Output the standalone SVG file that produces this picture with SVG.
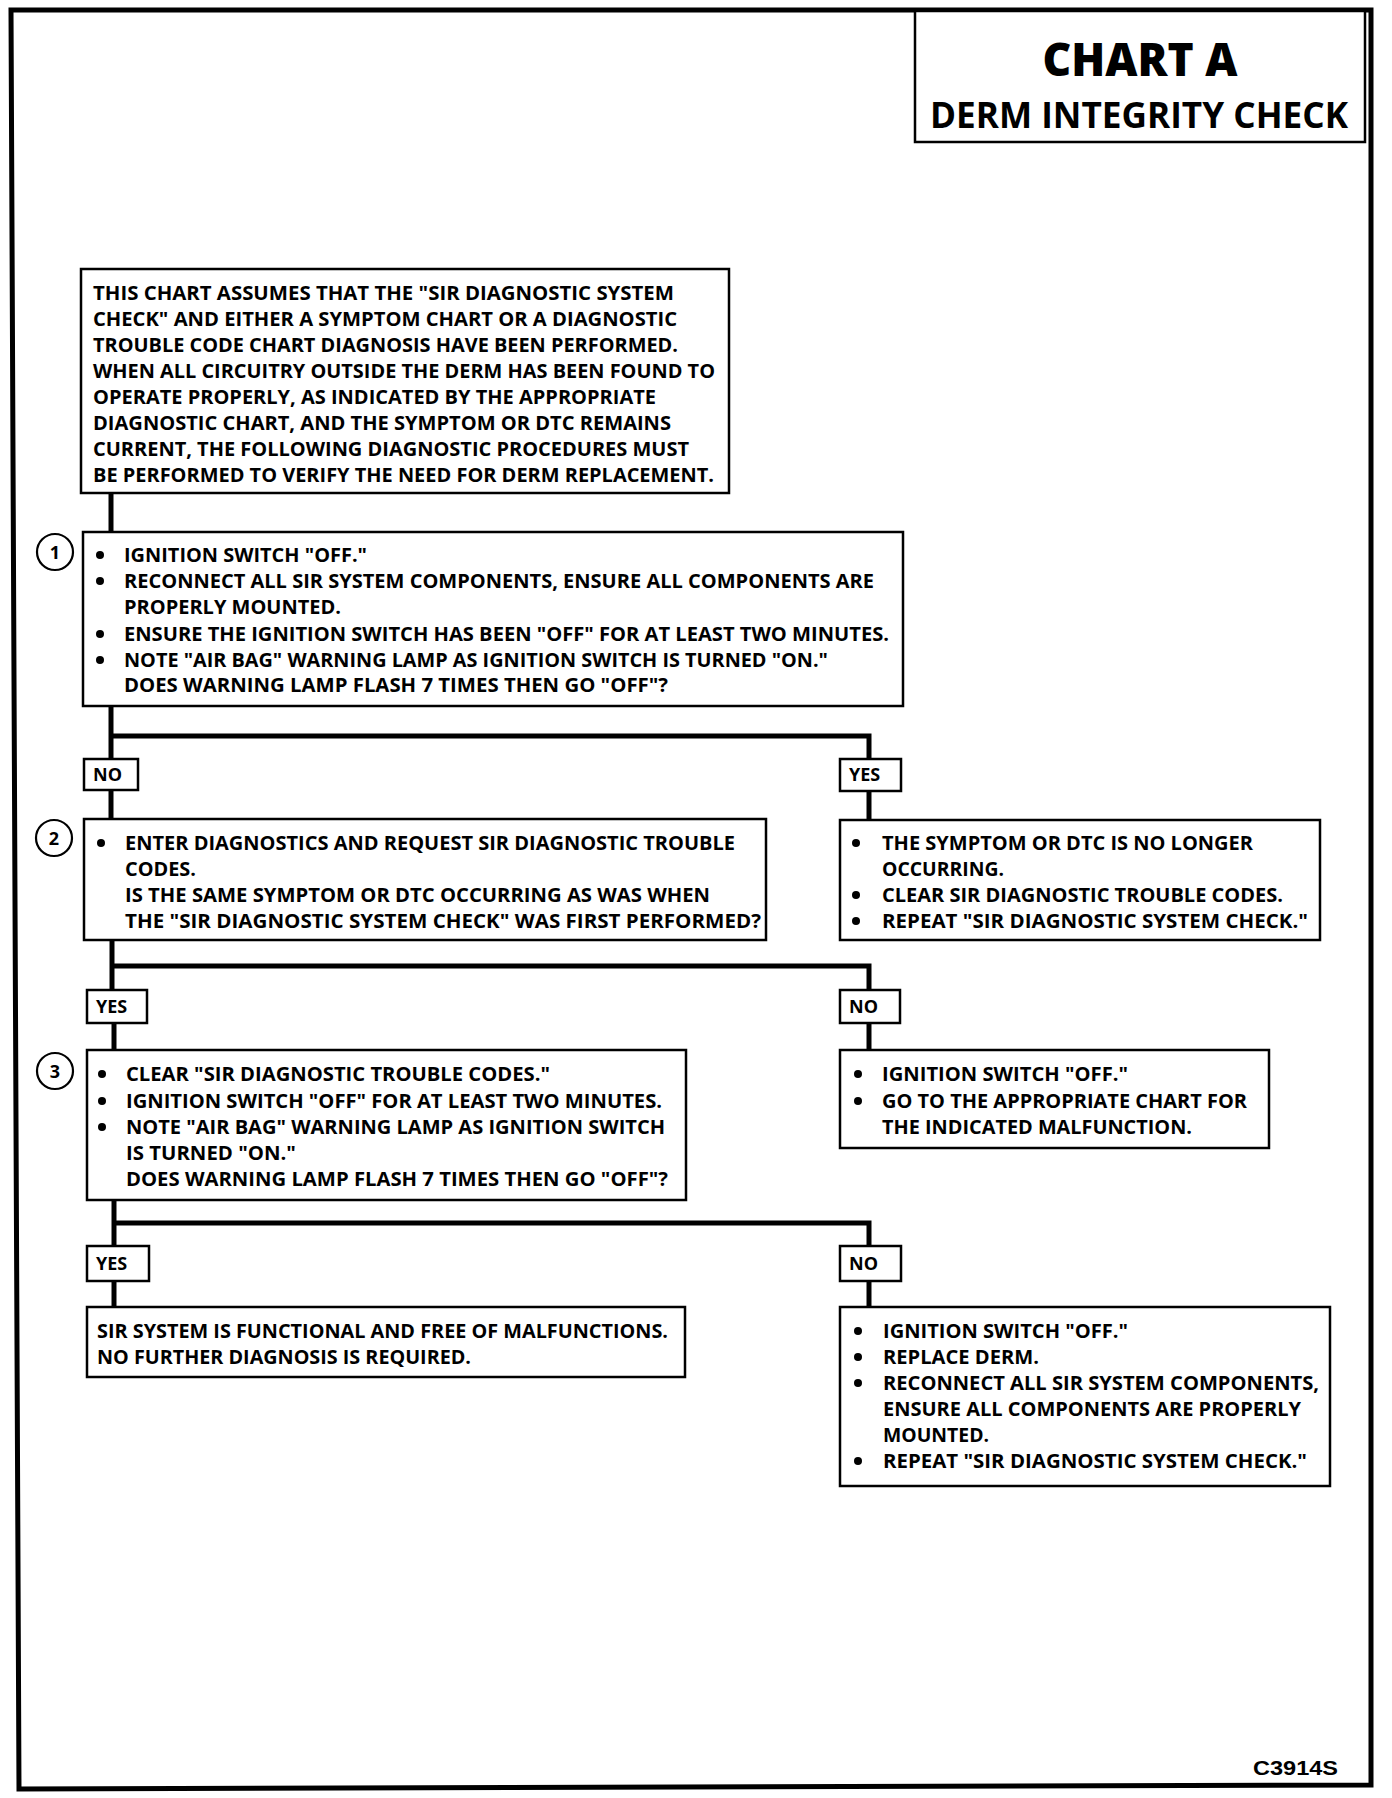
<svg xmlns="http://www.w3.org/2000/svg" width="1392" height="1798" viewBox="0 0 1392 1798">
<style>
.t{font-family:"Open Sans","Liberation Sans",sans-serif;font-weight:700;font-size:19px;fill:#000}
.lb{font-family:"Open Sans","Liberation Sans",sans-serif;font-weight:700;font-size:18px;fill:#000}
.box{fill:#fff;stroke:#000;stroke-width:2.5}
.num{font-family:"Open Sans","Liberation Sans",sans-serif;font-weight:700;font-size:18px;fill:#000;text-anchor:middle}
.cir{fill:#fff;stroke:#000;stroke-width:2.2}
.conn{fill:none;stroke:#000;stroke-width:5}
</style>
<rect width="1392" height="1798" fill="#fff"/>
<polygon points="11,10 1371,10 1371,1785 19,1789" fill="none" stroke="#000" stroke-width="5"/>

<g id="connectors">
<path class="conn" d="M111 493 V532"/>
<path class="conn" d="M111 706 V759"/>
<path class="conn" d="M111 736 H869 V759"/>
<path class="conn" d="M111 790 V819"/>
<path class="conn" d="M869 791 V820"/>
<path class="conn" d="M112 940 V990"/>
<path class="conn" d="M112 966 H869 V990"/>
<path class="conn" d="M114 1023 V1050"/>
<path class="conn" d="M869 1023 V1050"/>
<path class="conn" d="M114 1200 V1246"/>
<path class="conn" d="M114 1223 H869 V1246"/>
<path class="conn" d="M114 1281 V1307"/>
<path class="conn" d="M869 1281 V1307"/>
</g>

<g id="title">
<rect class="box" x="915" y="11" width="450" height="131"/>
<text x="1140" y="76" text-anchor="middle" style="font-family:'Open Sans','Liberation Sans',sans-serif;font-weight:800;font-size:46px" textLength="195" lengthAdjust="spacingAndGlyphs">CHART A</text>
<text x="1139" y="128" text-anchor="middle" style="font-family:'Open Sans','Liberation Sans',sans-serif;font-weight:700;font-size:36px" textLength="418" lengthAdjust="spacingAndGlyphs">DERM INTEGRITY CHECK</text>
</g>

<g id="intro">
<rect class="box" x="81" y="269" width="648" height="224"/>
<text class="t" x="93" y="300" textLength="581" lengthAdjust="spacingAndGlyphs">THIS CHART ASSUMES THAT THE "SIR DIAGNOSTIC SYSTEM</text>
<text class="t" x="93" y="326" textLength="584" lengthAdjust="spacingAndGlyphs">CHECK" AND EITHER A SYMPTOM CHART OR A DIAGNOSTIC</text>
<text class="t" x="93" y="352" textLength="585" lengthAdjust="spacingAndGlyphs">TROUBLE CODE CHART DIAGNOSIS HAVE BEEN PERFORMED.</text>
<text class="t" x="93" y="378" textLength="622" lengthAdjust="spacingAndGlyphs">WHEN ALL CIRCUITRY OUTSIDE THE DERM HAS BEEN FOUND TO</text>
<text class="t" x="93" y="404" textLength="563" lengthAdjust="spacingAndGlyphs">OPERATE PROPERLY, AS INDICATED BY THE APPROPRIATE</text>
<text class="t" x="93" y="430" textLength="578" lengthAdjust="spacingAndGlyphs">DIAGNOSTIC CHART, AND THE SYMPTOM OR DTC REMAINS</text>
<text class="t" x="93" y="456" textLength="596" lengthAdjust="spacingAndGlyphs">CURRENT, THE FOLLOWING DIAGNOSTIC PROCEDURES MUST</text>
<text class="t" x="93" y="482" textLength="621" lengthAdjust="spacingAndGlyphs">BE PERFORMED TO VERIFY THE NEED FOR DERM REPLACEMENT.</text>
</g>

<g id="step1">
<circle class="cir" cx="55" cy="552" r="18"/>
<text class="num" x="55" y="559">1</text>
<rect class="box" x="83" y="532" width="820" height="174"/>
<circle cx="100" cy="555" r="4"/>
<circle cx="100" cy="581" r="4"/>
<circle cx="100" cy="634" r="4"/>
<circle cx="100" cy="660" r="4"/>
<text class="t" x="124" y="562" textLength="243" lengthAdjust="spacingAndGlyphs">IGNITION SWITCH "OFF."</text>
<text class="t" x="124" y="588" textLength="750" lengthAdjust="spacingAndGlyphs">RECONNECT ALL SIR SYSTEM COMPONENTS, ENSURE ALL COMPONENTS ARE</text>
<text class="t" x="124" y="614" textLength="217" lengthAdjust="spacingAndGlyphs">PROPERLY MOUNTED.</text>
<text class="t" x="124" y="641" textLength="765" lengthAdjust="spacingAndGlyphs">ENSURE THE IGNITION SWITCH HAS BEEN "OFF" FOR AT LEAST TWO MINUTES.</text>
<text class="t" x="124" y="667" textLength="704" lengthAdjust="spacingAndGlyphs">NOTE "AIR BAG" WARNING LAMP AS IGNITION SWITCH IS TURNED "ON."</text>
<text class="t" x="124" y="692" textLength="544" lengthAdjust="spacingAndGlyphs">DOES WARNING LAMP FLASH 7 TIMES THEN GO "OFF"?</text>
</g>

<g id="label-no-1">
<rect class="box" x="84" y="759" width="54" height="31"/>
<text class="lb" x="93" y="781">NO</text>
</g>
<g id="label-yes-1">
<rect class="box" x="840" y="759" width="61" height="32"/>
<text class="lb" x="849" y="781">YES</text>
</g>

<g id="step2">
<circle class="cir" cx="54" cy="838" r="18"/>
<text class="num" x="54" y="845">2</text>
<rect class="box" x="84" y="819" width="682" height="121"/>
<circle cx="101" cy="843" r="4"/>
<text class="t" x="125" y="850" textLength="610" lengthAdjust="spacingAndGlyphs">ENTER DIAGNOSTICS AND REQUEST SIR DIAGNOSTIC TROUBLE</text>
<text class="t" x="125" y="876" textLength="71" lengthAdjust="spacingAndGlyphs">CODES.</text>
<text class="t" x="125" y="902" textLength="585" lengthAdjust="spacingAndGlyphs">IS THE SAME SYMPTOM OR DTC OCCURRING AS WAS WHEN</text>
<text class="t" x="125" y="928" textLength="636" lengthAdjust="spacingAndGlyphs">THE "SIR DIAGNOSTIC SYSTEM CHECK" WAS FIRST PERFORMED?</text>
</g>

<g id="yes-result-1">
<rect class="box" x="840" y="820" width="480" height="120"/>
<circle cx="856" cy="843" r="4"/>
<circle cx="856" cy="895" r="4"/>
<circle cx="856" cy="921" r="4"/>
<text class="t" x="882" y="850" textLength="371" lengthAdjust="spacingAndGlyphs">THE SYMPTOM OR DTC IS NO LONGER</text>
<text class="t" x="882" y="876" textLength="122" lengthAdjust="spacingAndGlyphs">OCCURRING.</text>
<text class="t" x="882" y="902" textLength="401" lengthAdjust="spacingAndGlyphs">CLEAR SIR DIAGNOSTIC TROUBLE CODES.</text>
<text class="t" x="882" y="928" textLength="426" lengthAdjust="spacingAndGlyphs">REPEAT "SIR DIAGNOSTIC SYSTEM CHECK."</text>
</g>

<g id="label-yes-2">
<rect class="box" x="87" y="990" width="60" height="33"/>
<text class="lb" x="96" y="1013">YES</text>
</g>
<g id="label-no-2">
<rect class="box" x="840" y="990" width="60" height="33"/>
<text class="lb" x="849" y="1013">NO</text>
</g>

<g id="step3">
<circle class="cir" cx="55" cy="1071" r="18"/>
<text class="num" x="55" y="1078">3</text>
<rect class="box" x="87" y="1050" width="599" height="150"/>
<circle cx="102" cy="1074" r="4"/>
<circle cx="102" cy="1101" r="4"/>
<circle cx="102" cy="1127" r="4"/>
<text class="t" x="126" y="1081" textLength="424" lengthAdjust="spacingAndGlyphs">CLEAR "SIR DIAGNOSTIC TROUBLE CODES."</text>
<text class="t" x="126" y="1108" textLength="536" lengthAdjust="spacingAndGlyphs">IGNITION SWITCH "OFF" FOR AT LEAST TWO MINUTES.</text>
<text class="t" x="126" y="1134" textLength="539" lengthAdjust="spacingAndGlyphs">NOTE "AIR BAG" WARNING LAMP AS IGNITION SWITCH</text>
<text class="t" x="126" y="1160" textLength="170" lengthAdjust="spacingAndGlyphs">IS TURNED "ON."</text>
<text class="t" x="126" y="1186" textLength="542" lengthAdjust="spacingAndGlyphs">DOES WARNING LAMP FLASH 7 TIMES THEN GO "OFF"?</text>
</g>

<g id="no-result-2">
<rect class="box" x="840" y="1050" width="429" height="98"/>
<circle cx="858" cy="1074" r="4"/>
<circle cx="858" cy="1101" r="4"/>
<text class="t" x="882" y="1081" textLength="246" lengthAdjust="spacingAndGlyphs">IGNITION SWITCH "OFF."</text>
<text class="t" x="882" y="1108" textLength="365" lengthAdjust="spacingAndGlyphs">GO TO THE APPROPRIATE CHART FOR</text>
<text class="t" x="882" y="1134" textLength="310" lengthAdjust="spacingAndGlyphs">THE INDICATED MALFUNCTION.</text>
</g>

<g id="label-yes-3">
<rect class="box" x="87" y="1246" width="62" height="35"/>
<text class="lb" x="96" y="1270">YES</text>
</g>
<g id="label-no-3">
<rect class="box" x="840" y="1246" width="61" height="35"/>
<text class="lb" x="849" y="1270">NO</text>
</g>

<g id="yes-result-3">
<rect class="box" x="87" y="1307" width="598" height="70"/>
<text class="t" x="97" y="1338" textLength="571" lengthAdjust="spacingAndGlyphs">SIR SYSTEM IS FUNCTIONAL AND FREE OF MALFUNCTIONS.</text>
<text class="t" x="97" y="1364" textLength="374" lengthAdjust="spacingAndGlyphs">NO FURTHER DIAGNOSIS IS REQUIRED.</text>
</g>

<g id="no-result-3">
<rect class="box" x="840" y="1307" width="490" height="179"/>
<circle cx="858" cy="1331" r="4"/>
<circle cx="858" cy="1357" r="4"/>
<circle cx="858" cy="1383" r="4"/>
<circle cx="858" cy="1461" r="4"/>
<text class="t" x="883" y="1338" textLength="245" lengthAdjust="spacingAndGlyphs">IGNITION SWITCH "OFF."</text>
<text class="t" x="883" y="1364" textLength="156" lengthAdjust="spacingAndGlyphs">REPLACE DERM.</text>
<text class="t" x="883" y="1390" textLength="436" lengthAdjust="spacingAndGlyphs">RECONNECT ALL SIR SYSTEM COMPONENTS,</text>
<text class="t" x="883" y="1416" textLength="418" lengthAdjust="spacingAndGlyphs">ENSURE ALL COMPONENTS ARE PROPERLY</text>
<text class="t" x="883" y="1442" textLength="106" lengthAdjust="spacingAndGlyphs">MOUNTED.</text>
<text class="t" x="883" y="1468" textLength="424" lengthAdjust="spacingAndGlyphs">REPEAT "SIR DIAGNOSTIC SYSTEM CHECK."</text>
</g>

<text x="1253" y="1775" style="font-family:'Liberation Sans',Arial,sans-serif;font-weight:700;font-size:21px" textLength="85" lengthAdjust="spacingAndGlyphs">C3914S</text>
</svg>
